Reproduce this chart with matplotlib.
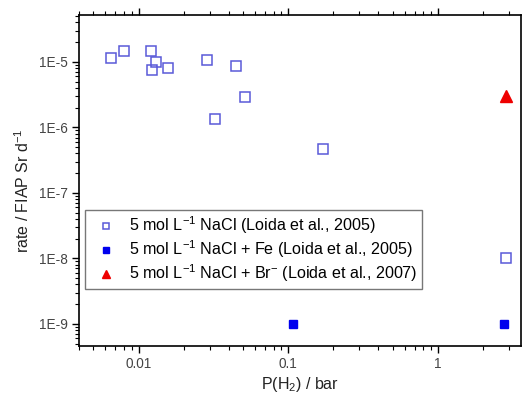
import matplotlib
matplotlib.use('Agg')
import matplotlib.pyplot as plt
from matplotlib.ticker import LogLocator, FixedLocator, FixedFormatter, NullFormatter

plt.rcParams['font.family'] = ['Liberation Sans', 'DejaVu Sans']
plt.rcParams['mathtext.fontset'] = 'custom'
plt.rcParams['mathtext.rm'] = 'Liberation Sans'
plt.rcParams['mathtext.it'] = 'Liberation Sans:italic'
plt.rcParams['mathtext.default'] = 'regular'

# 5 mol/L NaCl (Loida et al., 2005)
nacl_p = [0.00656, 0.00798, 0.0122, 0.0131, 0.0123, 0.0157, 0.0288, 0.0451, 0.0518, 0.0327, 0.171, 2.85]
nacl_rate = [1.16e-5, 1.44e-5, 1.49e-5, 1.01e-5, 7.4e-6, 8.0e-6, 1.07e-5, 8.5e-6, 2.95e-6, 1.33e-6, 4.7e-7, 1.0e-8]

# 5 mol/L NaCl + Fe (Loida et al., 2005)
fe_p = [0.108, 2.78]
fe_rate = [1e-9, 1e-9]

# 5 mol/L NaCl + Br- (Loida et al., 2007)
br_p = [2.85]
br_rate = [3.0e-6]

x_ticks = [0.01, 0.1, 1]
x_labels = ['0.01', '0.1', '1']
y_ticks = [1e-9, 1e-8, 1e-7, 1e-6, 1e-5]
y_labels = ['1E-9', '1E-8', '1E-7', '1E-6', '1E-5']

fig = plt.figure(figsize=(5.23, 3.94), dpi=100)
ax = fig.add_axes([0.151, 0.122, 0.845, 0.840])

ax.plot(nacl_p, nacl_rate, 's', ms=7, mfc='none', mec='#5a5ad8', mew=1.1,
        label='5 mol L$^{-1}$ NaCl (Loida et al., 2005)')
ax.plot(fe_p, fe_rate, 's', ms=6, mfc='#0000ee', mec='#0000ee',
        label='5 mol L$^{-1}$ NaCl + Fe (Loida et al., 2005)')
ax.plot(br_p, br_rate, '^', ms=8, mfc='#ee0000', mec='#ee0000',
        label='5 mol L$^{-1}$ NaCl + Br$^{-}$ (Loida et al., 2007)')

ax.set_xscale('log')
ax.set_yscale('log')
ax.set_xlim(0.004, 3.6)
ax.set_ylim(4.6e-10, 5.2e-5)

ax.xaxis.set_major_locator(FixedLocator(x_ticks))
ax.xaxis.set_major_formatter(FixedFormatter(x_labels))
ax.xaxis.set_minor_locator(LogLocator(base=10, subs=range(2, 10), numticks=20))
ax.xaxis.set_minor_formatter(NullFormatter())
ax.yaxis.set_major_locator(FixedLocator(y_ticks))
ax.yaxis.set_major_formatter(FixedFormatter(y_labels))
ax.yaxis.set_minor_locator(LogLocator(base=10, subs=range(2, 10), numticks=20))
ax.yaxis.set_minor_formatter(NullFormatter())

ax.tick_params(which='both', direction='out', top=True, right=False, labelsize=9.8, labelcolor='#444444')
ax.tick_params(which='major', length=5, width=1, pad=3)
ax.tick_params(which='minor', length=3, width=0.8)
for s in ax.spines.values():
    s.set_linewidth(1.2)

ax.set_xlabel('P(H$_2$) / bar', fontsize=11.5, color='#222222', labelpad=3)
ax.set_ylabel('rate / FIAP Sr d$^{-1}$', fontsize=11.5, color='#222222')
ax.yaxis.set_label_coords(-0.107, 0.468)

leg = ax.legend(loc='upper left', bbox_to_anchor=(0.0136, 0.411), fontsize=11.6, frameon=True,
                fancybox=False, edgecolor='#555555', handletextpad=0.49, borderpad=0.3,
                labelspacing=0.14, handlelength=1.95, markerscale=0.7, borderaxespad=0)
leg.get_frame().set_linewidth(1.0)

fig.savefig('out.png', dpi=100)
